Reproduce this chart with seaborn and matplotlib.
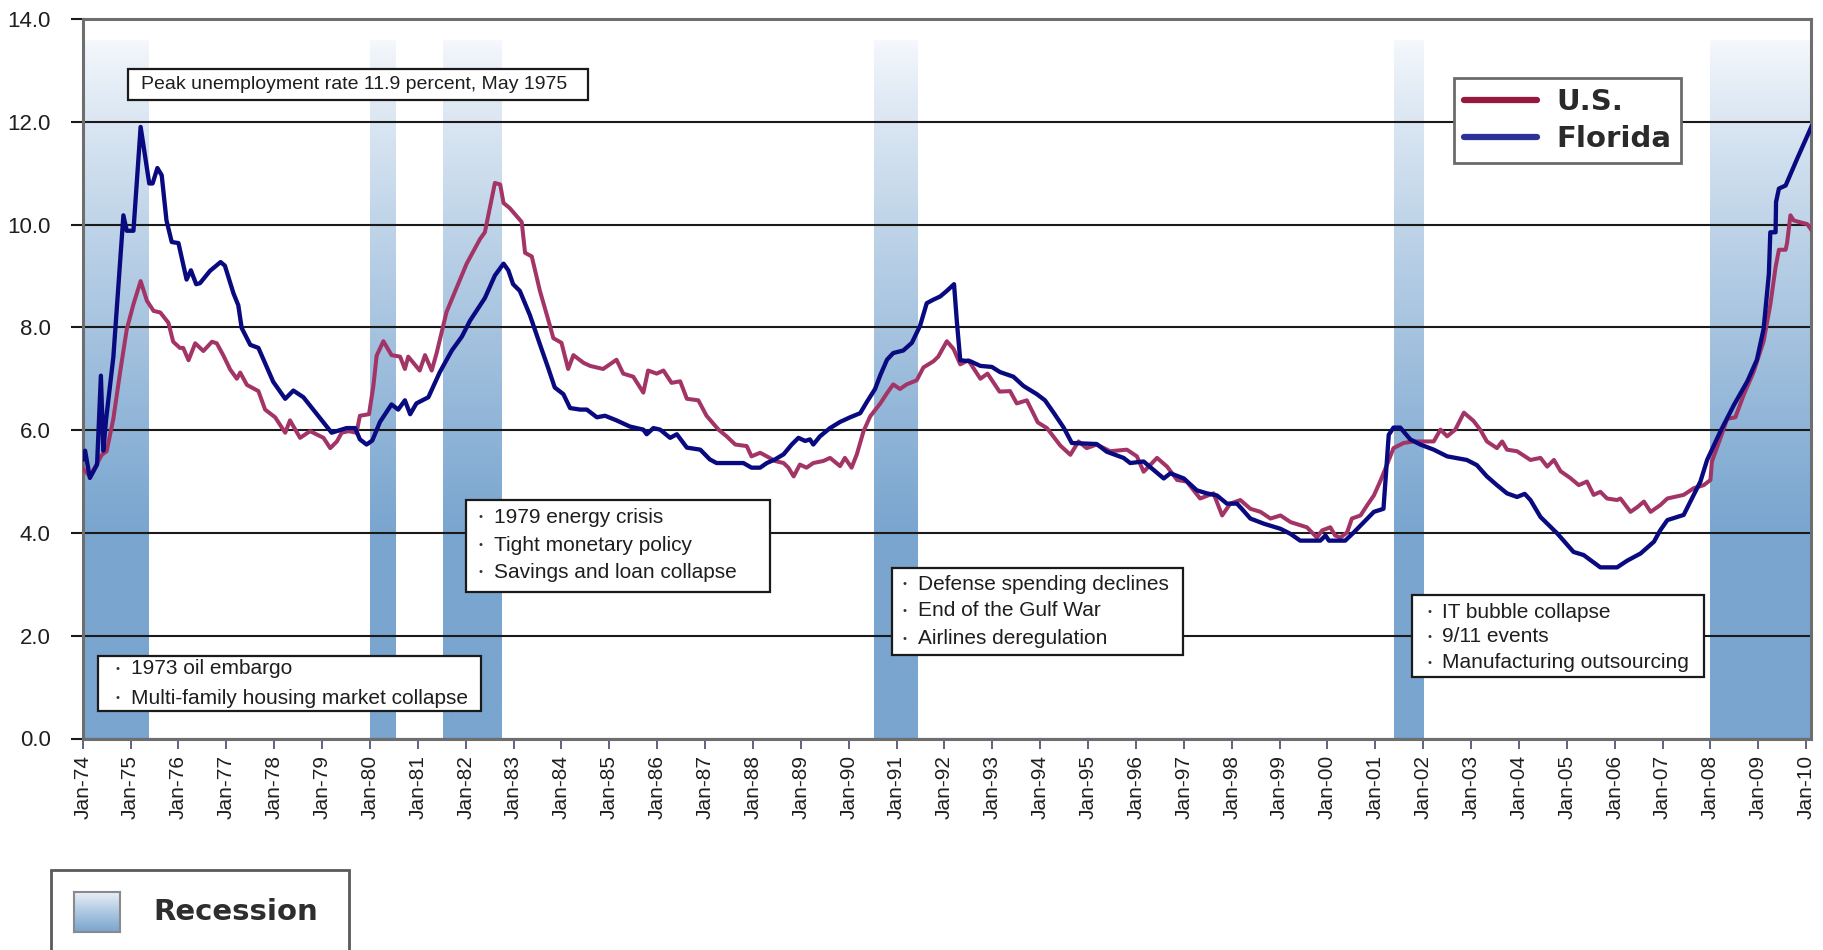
import numpy as np
import matplotlib
matplotlib.use("Agg")
import matplotlib.pyplot as plt
from matplotlib.colors import LinearSegmentedColormap
from matplotlib.lines import Line2D
from matplotlib.patches import Rectangle
import seaborn as sns

# ---- data (decimal years, percent) ----
fl_t = [1974.00, 1974.05, 1974.15, 1974.30, 1974.38, 1974.43, 1974.49, 1974.64, 1974.85, 1974.92,
        1975.06, 1975.21, 1975.39, 1975.46, 1975.56, 1975.65, 1975.75, 1975.86, 1976.00, 1976.17,
        1976.26, 1976.37, 1976.45, 1976.66, 1976.88, 1976.97, 1977.15, 1977.25, 1977.32, 1977.50,
        1977.67, 1977.98, 1978.23, 1978.40, 1978.61, 1979.20, 1979.51, 1979.69, 1979.79, 1979.93,
        1980.05, 1980.21, 1980.45, 1980.59, 1980.73, 1980.84, 1980.97, 1981.22, 1981.46, 1981.71,
        1981.92, 1982.09, 1982.40, 1982.61, 1982.79, 1982.89, 1982.99, 1983.13, 1983.34, 1983.55,
        1983.73, 1983.86, 1984.04, 1984.18, 1984.39, 1984.53, 1984.74, 1984.91, 1985.15, 1985.43,
        1985.71, 1985.78, 1985.92, 1986.06, 1986.27, 1986.41, 1986.62, 1986.90, 1987.10, 1987.24,
        1987.80, 1987.97, 1988.15, 1988.29, 1988.46, 1988.64, 1988.81, 1988.95, 1989.09, 1989.19,
        1989.26, 1989.40, 1989.61, 1989.82, 1990.03, 1990.24, 1990.38, 1990.55, 1990.66, 1990.80,
        1990.93, 1991.14, 1991.32, 1991.49, 1991.63, 1991.77, 1991.91, 1992.05, 1992.20, 1992.26,
        1992.33, 1992.54, 1992.75, 1992.99, 1993.16, 1993.44, 1993.65, 1993.93, 1994.10, 1994.28,
        1994.49, 1994.66, 1995.18, 1995.39, 1995.74, 1995.88, 1996.16, 1996.58, 1996.72, 1997.00,
        1997.27, 1997.48, 1997.69, 1997.90, 1998.11, 1998.20, 1998.39, 1998.67, 1999.02, 1999.23,
        1999.43, 1999.85, 1999.96, 2000.03, 2000.37, 2000.55, 2000.76, 2000.97, 2001.17, 2001.28,
        2001.38, 2001.52, 2001.73, 2001.94, 2002.22, 2002.50, 2002.91, 2003.12, 2003.33, 2003.54,
        2003.75, 2003.96, 2004.12, 2004.24, 2004.45, 2004.80, 2005.14, 2005.35, 2005.70, 2006.05,
        2006.26, 2006.54, 2006.82, 2006.95, 2007.10, 2007.44, 2007.58, 2007.79, 2007.93, 2008.21,
        2008.49, 2008.77, 2008.97, 2009.11, 2009.22, 2009.25, 2009.36, 2009.37, 2009.43, 2009.57,
        2009.81, 2010.12]
fl_v = [5.42, 5.60, 5.07, 5.33, 7.06, 5.60, 6.22, 7.42, 10.18, 9.88,
        9.88, 11.90, 10.80, 10.80, 11.10, 10.96, 10.08, 9.66, 9.64, 8.93,
        9.11, 8.84, 8.86, 9.10, 9.27, 9.20, 8.66, 8.43, 7.99, 7.66,
        7.60, 6.94, 6.61, 6.77, 6.64, 5.95, 6.04, 6.04, 5.82, 5.72,
        5.80, 6.16, 6.50, 6.40, 6.58, 6.31, 6.52, 6.64, 7.13, 7.55,
        7.82, 8.13, 8.57, 9.01, 9.24, 9.11, 8.84, 8.71, 8.24, 7.67,
        7.19, 6.83, 6.70, 6.43, 6.40, 6.40, 6.25, 6.28, 6.19, 6.07,
        6.01, 5.92, 6.04, 6.01, 5.85, 5.92, 5.66, 5.62, 5.43, 5.36,
        5.36, 5.27, 5.27, 5.36, 5.43, 5.53, 5.72, 5.85, 5.79, 5.82,
        5.72, 5.88, 6.04, 6.16, 6.25, 6.33, 6.55, 6.80, 7.07, 7.37,
        7.50, 7.55, 7.70, 8.03, 8.47, 8.54, 8.60, 8.71, 8.84, 8.10,
        7.36, 7.34, 7.25, 7.23, 7.13, 7.04, 6.86, 6.70, 6.58, 6.34,
        6.05, 5.75, 5.73, 5.58, 5.46, 5.36, 5.39, 5.06, 5.16, 5.06,
        4.83, 4.77, 4.73, 4.57, 4.57, 4.48, 4.28, 4.18, 4.08, 3.98,
        3.85, 3.85, 3.95, 3.85, 3.85, 4.01, 4.21, 4.41, 4.47, 5.91,
        6.05, 6.05, 5.82, 5.72, 5.62, 5.49, 5.42, 5.32, 5.10, 4.93,
        4.77, 4.70, 4.76, 4.64, 4.31, 3.99, 3.63, 3.57, 3.33, 3.33,
        3.46, 3.60, 3.83, 4.05, 4.25, 4.35, 4.61, 5.00, 5.42, 5.98,
        6.49, 6.95, 7.37, 7.97, 9.04, 9.85, 9.85, 10.44, 10.70, 10.76,
        11.28, 11.93]

us_t = [1974.00, 1974.15, 1974.40, 1974.50, 1974.64, 1974.78, 1974.92, 1975.06, 1975.21, 1975.34,
        1975.48, 1975.62, 1975.79, 1975.89, 1976.03, 1976.10, 1976.21, 1976.35, 1976.52, 1976.70,
        1976.80, 1976.94, 1977.08, 1977.22, 1977.29, 1977.43, 1977.67, 1977.81, 1978.02, 1978.23,
        1978.33, 1978.54, 1978.75, 1979.03, 1979.17, 1979.31, 1979.41, 1979.55, 1979.72, 1979.79,
        1979.98, 1980.07, 1980.14, 1980.28, 1980.45, 1980.63, 1980.73, 1980.80, 1981.04, 1981.15,
        1981.29, 1981.39, 1981.60, 1981.81, 1982.02, 1982.30, 1982.40, 1982.61, 1982.72, 1982.79,
        1982.92, 1983.17, 1983.24, 1983.38, 1983.55, 1983.76, 1983.83, 1984.00, 1984.14, 1984.25,
        1984.46, 1984.60, 1984.87, 1985.15, 1985.29, 1985.50, 1985.71, 1985.81, 1985.99, 1986.13,
        1986.30, 1986.48, 1986.62, 1986.86, 1987.03, 1987.28, 1987.45, 1987.63, 1987.87, 1987.97,
        1988.15, 1988.29, 1988.46, 1988.64, 1988.74, 1988.85, 1988.98, 1989.12, 1989.26, 1989.47,
        1989.61, 1989.82, 1989.92, 1990.06, 1990.17, 1990.31, 1990.45, 1990.66, 1990.80, 1990.93,
        1991.07, 1991.21, 1991.42, 1991.56, 1991.77, 1991.87, 1992.05, 1992.19, 1992.33, 1992.50,
        1992.75, 1992.90, 1993.15, 1993.37, 1993.51, 1993.72, 1993.95, 1994.14, 1994.42, 1994.63,
        1994.80, 1994.97, 1995.18, 1995.46, 1995.81, 1996.02, 1996.16, 1996.44, 1996.65, 1996.86,
        1997.06, 1997.34, 1997.62, 1997.80, 1997.97, 1998.18, 1998.39, 1998.60, 1998.81, 1999.02,
        1999.23, 1999.57, 1999.78, 1999.89, 2000.06, 2000.16, 2000.27, 2000.41, 2000.51, 2000.69,
        2000.83, 2000.97, 2001.10, 2001.24, 2001.38, 2001.59, 2001.80, 2002.22, 2002.36, 2002.50,
        2002.67, 2002.85, 2003.05, 2003.19, 2003.33, 2003.54, 2003.65, 2003.75, 2003.96, 2004.24,
        2004.45, 2004.59, 2004.73, 2004.87, 2005.07, 2005.25, 2005.42, 2005.56, 2005.70, 2005.84,
        2006.05, 2006.12, 2006.33, 2006.47, 2006.61, 2006.75, 2006.95, 2007.10, 2007.44, 2007.65,
        2007.86, 2008.00, 2008.03, 2008.21, 2008.35, 2008.52, 2008.70, 2008.90, 2009.11, 2009.25,
        2009.36, 2009.43, 2009.57, 2009.60, 2009.67, 2009.74, 2009.85, 2010.02, 2010.12]
us_v = [5.26, 5.10, 5.52, 5.59, 6.22, 7.12, 7.96, 8.45, 8.90, 8.52,
        8.32, 8.29, 8.09, 7.72, 7.60, 7.60, 7.36, 7.69, 7.54, 7.72,
        7.69, 7.45, 7.18, 7.00, 7.12, 6.88, 6.76, 6.40, 6.25, 5.95,
        6.19, 5.85, 5.98, 5.85, 5.65, 5.78, 5.95, 5.98, 5.95, 6.28,
        6.31, 6.85, 7.45, 7.73, 7.46, 7.43, 7.19, 7.43, 7.16, 7.46,
        7.16, 7.49, 8.30, 8.77, 9.24, 9.72, 9.85, 10.81, 10.78, 10.42,
        10.32, 10.05, 9.45, 9.38, 8.71, 8.03, 7.79, 7.70, 7.19, 7.46,
        7.31, 7.25, 7.19, 7.37, 7.10, 7.04, 6.73, 7.16, 7.10, 7.16,
        6.92, 6.95, 6.61, 6.58, 6.28, 6.01, 5.88, 5.72, 5.69, 5.49,
        5.56, 5.49, 5.40, 5.36, 5.27, 5.10, 5.33, 5.27, 5.36, 5.40,
        5.46, 5.30, 5.46, 5.27, 5.53, 5.98, 6.27, 6.52, 6.72, 6.89,
        6.80, 6.89, 6.97, 7.22, 7.34, 7.43, 7.73, 7.58, 7.28, 7.36,
        7.00, 7.10, 6.75, 6.76, 6.52, 6.58, 6.15, 6.04, 5.70, 5.52,
        5.78, 5.65, 5.72, 5.59, 5.62, 5.49, 5.19, 5.46, 5.29, 5.03,
        5.00, 4.67, 4.77, 4.34, 4.57, 4.64, 4.47, 4.41, 4.28, 4.34,
        4.21, 4.11, 3.91, 4.05, 4.11, 3.95, 3.91, 4.01, 4.28, 4.34,
        4.54, 4.73, 5.00, 5.32, 5.65, 5.75, 5.78, 5.78, 6.01, 5.88,
        6.01, 6.34, 6.18, 6.01, 5.78, 5.65, 5.78, 5.62, 5.59, 5.42,
        5.46, 5.29, 5.42, 5.20, 5.07, 4.93, 5.00, 4.74, 4.80, 4.67,
        4.64, 4.67, 4.41, 4.50, 4.61, 4.41, 4.54, 4.67, 4.74, 4.87,
        4.93, 5.03, 5.39, 5.85, 6.22, 6.25, 6.70, 7.13, 7.73, 8.44,
        9.17, 9.51, 9.51, 9.64, 10.18, 10.08, 10.05, 10.01, 9.88]

recessions = [(1974.00, 1975.37), (1980.00, 1980.53), (1981.52, 1982.74),
              (1990.53, 1991.43), (2001.38, 2001.99), (2007.98, 2010.20)]

tick_years = list(range(1974, 2011))
tick_labels = ["Jan-%02d" % (y % 100) for y in tick_years]
y_ticks = [0, 2, 4, 6, 8, 10, 12, 14]

series_names = ["U.S.", "Florida"]
peak_note = "Peak unemployment rate 11.9 percent, May 1975"
note_1973 = ["1973 oil embargo", "Multi-family housing market collapse"]
note_1979 = ["1979 energy crisis", "Tight monetary policy", "Savings and loan collapse"]
note_1990 = ["Defense spending declines", "End of the Gulf War", "Airlines deregulation"]
note_2001 = ["IT bubble collapse", "9/11 events", "Manufacturing outsourcing"]

# ---- style ----
sns.set_theme(style="white")
plt.rcParams['font.family'] = ['Liberation Sans', 'DejaVu Sans']

W, H = 1824, 950
fig = plt.figure(figsize=(W / 100, H / 100), dpi=100)


def fx(px):
    return px / W


def fy(py):
    return 1 - py / H


ax = fig.add_axes([fx(82.7), fy(738.5), fx(1811) - fx(82.7), fy(19) - fy(738.5)])

# recession bands with vertical gradient
band_cmap = LinearSegmentedColormap.from_list("band", ["#f5f8fc", "#79a5cf"])
band_top = 13.6
yy = np.linspace(0, band_top, 300)
shade = (np.clip((band_top - yy) / (band_top - 4.0), 0, 1) ** 0.85).reshape(-1, 1)
for x0, x1 in recessions:
    ax.imshow(shade, extent=(x0, x1, 0, band_top), origin='lower', aspect='auto',
              cmap=band_cmap, vmin=0, vmax=1, interpolation='bilinear', zorder=0.2)

us_color = "#a33566"
fl_color = "#0a0a80"
sns.lineplot(x=us_t, y=us_v, ax=ax, color=us_color, lw=2.9, estimator=None, sort=False, zorder=3)
sns.lineplot(x=fl_t, y=fl_v, ax=ax, color=fl_color, lw=3.1, estimator=None, sort=False, zorder=4)

ax.set_xlim(1974.0, 2010.10)
ax.set_ylim(0, 14)
ax.set_xlabel("")
ax.set_ylabel("")

ax.set_axisbelow(True)
ax.yaxis.grid(True, color="#1a1a1a", lw=1.5)
ax.xaxis.grid(False)

ax.set_xticks(tick_years)
ax.set_xticklabels(tick_labels, rotation=90, fontsize=15, color="#1e1e1e")
ax.set_yticks(y_ticks)
ax.set_yticklabels(["%.1f" % v for v in y_ticks], fontsize=16, color="#1e1e1e")
ax.tick_params(axis='x', bottom=True, length=7, width=1.3, color="#555577", pad=5)
ax.tick_params(axis='y', left=True, length=9, width=1.5, color="#1a1a1a", pad=14)

for side, sp in ax.spines.items():
    sp.set_visible(True)
    sp.set_color("#6e6e6e")
    sp.set_linewidth(2.2)

# series legend
handles = [Line2D([0], [0], color="#97183f", lw=4.5),
           Line2D([0], [0], color="#2d3296", lw=4.5)]
leg = ax.legend(handles, series_names, loc='upper left', bbox_to_anchor=(0.7934, 0.918),
                borderaxespad=0, fancybox=False, framealpha=1, handlelength=2.5,
                handletextpad=0.65, borderpad=0.35, labelspacing=0.3,
                prop=dict(family='DejaVu Sans', weight='bold', size=21))
leg.get_frame().set_edgecolor("#6b6b6b")
leg.get_frame().set_linewidth(2)
leg.set_zorder(6)
for t in leg.get_texts():
    t.set_color("#2a2a2a")


# annotation boxes (figure pixel positions)
def box(x0, y0, x1, y1):
    r = Rectangle((fx(x0), fy(y1)), fx(x1) - fx(x0), fy(y0) - fy(y1), transform=fig.transFigure,
                  facecolor="white", edgecolor="#1a1a1a", lw=1.6, zorder=5)
    fig.add_artist(r)


def bullets(lines, bx, tx, ys, size=15):
    for s, y in zip(lines, ys):
        fig.text(fx(bx), fy(y), "•", fontsize=8, color="#333333", va='center', ha='center', zorder=6)
        fig.text(fx(tx), fy(y), s, fontsize=size, color="#1e1e1e", va='center', ha='left', zorder=6)


box(128, 69, 588, 100)
fig.text(fx(141), fy(84.5), peak_note, fontsize=14, color="#1e1e1e", va='center', ha='left', zorder=6)

box(98, 656, 481, 711)
bullets(note_1973, 117, 131, [669, 698])

box(466, 500, 770, 592)
bullets(note_1979, 481, 494, [517.5, 545.5, 572])

box(892, 568, 1183, 655)
bullets(note_1990, 905, 918, [584, 611, 638.5])

box(1412, 595, 1704, 677)
bullets(note_2001, 1430, 1442, [612, 637, 663])

# recession legend at bottom left
rbox = Rectangle((fx(51), fy(960)), fx(349) - fx(51), fy(870) - fy(960), transform=fig.transFigure,
                 facecolor="white", edgecolor="#5a5a5a", lw=2, zorder=-1)
fig.add_artist(rbox)
sw = fig.add_axes([fx(74), fy(932), fx(120) - fx(74), fy(892) - fy(932)])
sw.imshow(np.linspace(0.05, 1, 100).reshape(-1, 1) ** 0.9, cmap=band_cmap, vmin=0, vmax=1,
          aspect='auto', interpolation='bilinear')
sw.set_xticks([])
sw.set_yticks([])
for sp in sw.spines.values():
    sp.set_color("#8a8a8a")
    sp.set_linewidth(1.5)
fig.text(fx(153), fy(912), "Recession", fontsize=21, weight='bold', family='DejaVu Sans',
         color="#2e2e2e", va='center', ha='left')

fig.savefig("out.png", dpi=100)
